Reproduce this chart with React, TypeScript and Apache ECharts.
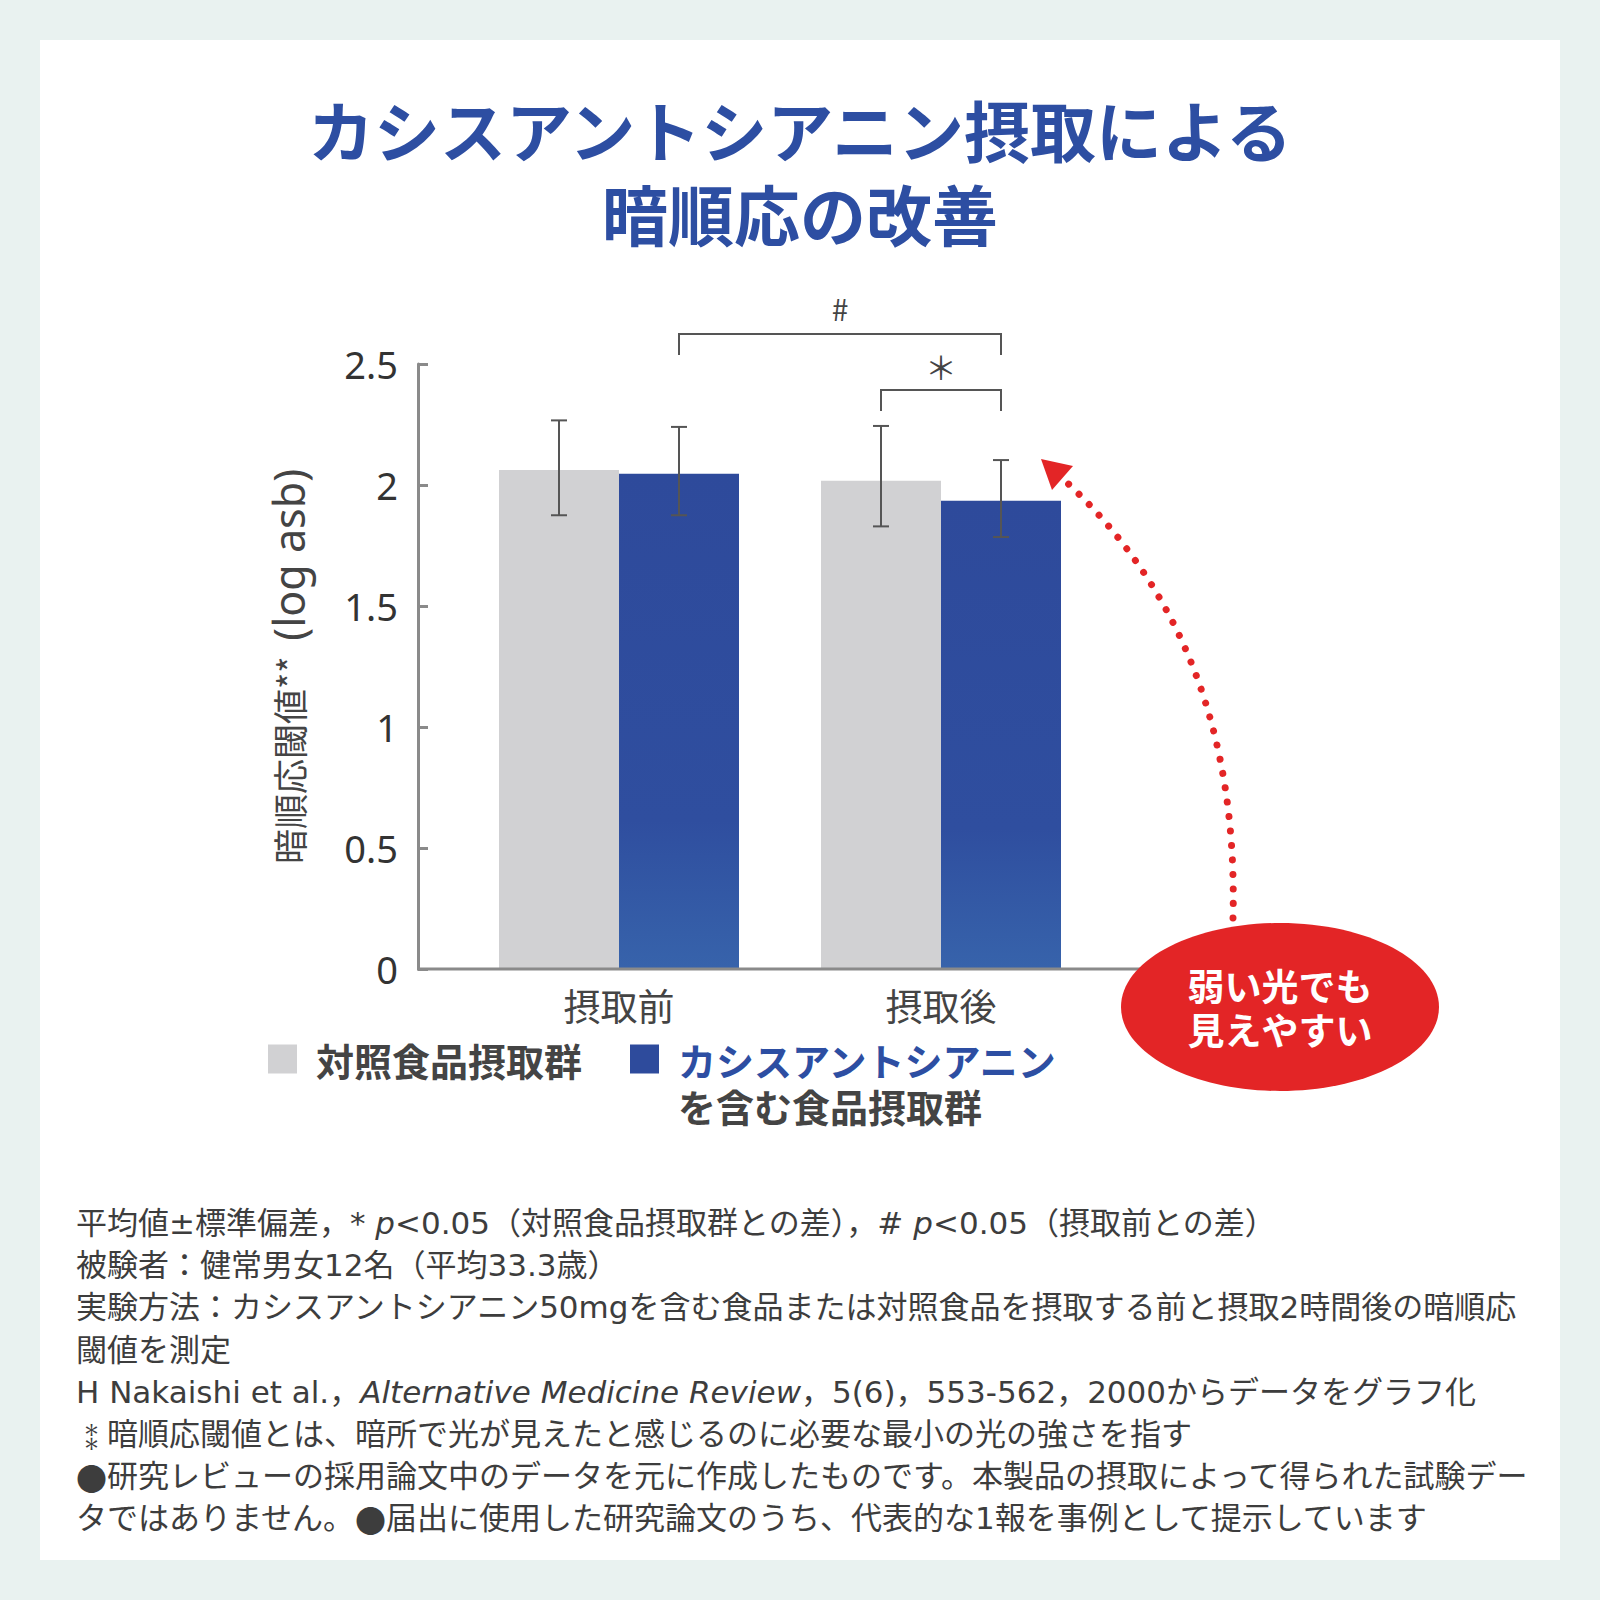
import React, { useEffect, useRef } from 'react';
import * as echarts from 'echarts';

// ---------- data ----------
const categories = ['摂取前', '摂取後'];
const seriesNames = ['対照食品摂取群', 'カシスアントシアニンを含む食品摂取群'];
const controlMeans = [2.062, 2.018];
const cassisMeans = [2.047, 1.935];
const controlLow = [1.875, 1.829];
const controlHigh = [2.267, 2.244];
const cassisLow = [1.875, 1.785];
const cassisHigh = [2.24, 2.103];
const yTicks = [0, 0.5, 1, 1.5, 2, 2.5];

const titleLines = ['カシスアントシアニン摂取による', '暗順応の改善'];
const calloutLines = ['弱い光でも', '見えやすい'];

// significance brackets: from/to = [categoryIndex, seriesIndex]
const brackets = [
  { label: '#', from: [0, 1], to: [1, 1], top: 2.624, leg: 2.537, labelY: 2.73 },
  { label: '＊', from: [1, 0], to: [1, 1], top: 2.393, leg: 2.306, labelY: 2.49 },
];

const footnotes = [
  '平均値±標準偏差，* {i|p}<0.05（対照食品摂取群との差），# {i|p}<0.05（摂取前との差）',
  '被験者：健常男女12名（平均33.3歳）',
  '実験方法：カシスアントシアニン50mgを含む食品または対照食品を摂取する前と摂取2時間後の暗順応',
  '閾値を測定',
  'H Nakaishi et al.，{i|Alternative Medicine Review}，5(6)，553-562，2000からデータをグラフ化',
  '{k|⁑}暗順応閾値とは、暗所で光が見えたと感じるのに必要な最小の光の強さを指す',
  '{c|●}研究レビューの採用論文中のデータを元に作成したものです。本製品の摂取によって得られた試験デー',
  'タではありません。{c|●}届出に使用した研究論文のうち、代表的な1報を事例として提示しています',
];

// ---------- style constants ----------
const FONT_JP = '"Noto Sans CJK JP", "Noto Sans", sans-serif';
const FONT_LAT = '"Noto Sans", "DejaVu Sans", sans-serif';
const FONT_FOOT = '"DejaVu Sans", "Noto Sans CJK JP", sans-serif';
const BAR_W = 120;
const BLUE = '#2e4b9c';
const TITLE_BLUE = '#2d4ea2';
const GREY = '#d1d1d3';
const RED = '#e32526';
const INK = '#444444';
const FOOT_INK = '#3d3d3d';

const errorData: number[][] = [];
for (let i = 0; i < categories.length; i++) {
  errorData.push([i, controlLow[i], controlHigh[i], 0]);
  errorData.push([i, cassisLow[i], cassisHigh[i], 1]);
}

function buildOption() {
  const blueGrad = new echarts.graphic.LinearGradient(0, 0, 0, 1, [
    { offset: 0, color: '#2e4a9b' },
    { offset: 0.7, color: '#2f4e9f' },
    { offset: 1, color: '#3763ab' },
  ]);

  const footY0 = 1223;
  const footStep = 42.2;
  const footSize = 31;

  return {
    animation: false,
    backgroundColor: '#e9f2f0',
    title: titleLines.map((t, i) => ({
      text: t,
      left: 'center',
      top: 86 + i * 84,
      padding: 0,
      textStyle: {
        fontSize: 66,
        fontWeight: 'bold',
        color: TITLE_BLUE,
        lineHeight: 84,
        fontFamily: FONT_JP,
      },
    })),
    grid: { left: 458, top: 364, width: 644, height: 605, containLabel: false },
    legend: {
      left: 268,
      top: 1040,
      padding: 0,
      itemWidth: 29,
      itemHeight: 29,
      itemGap: 48,
      icon: 'rect',
      selectedMode: false,
      data: [
        { name: seriesNames[0], itemStyle: { color: GREY } },
        { name: seriesNames[1], itemStyle: { color: BLUE }, textStyle: { padding: [46, 0, 0, 14] } },
      ],
      formatter: (name: string) =>
        name === seriesNames[1] ? '{a|カシスアントシアニン}\n{b|を含む食品摂取群}' : name,
      textStyle: {
        fontSize: 38,
        fontWeight: 'bold',
        color: INK,
        fontFamily: FONT_JP,
        padding: [0, 0, 0, 14],
        rich: {
          a: { fontSize: 38, fontWeight: 'bold', color: TITLE_BLUE, fontFamily: FONT_JP, lineHeight: 46 },
          b: { fontSize: 38, fontWeight: 'bold', color: INK, fontFamily: FONT_JP, lineHeight: 46 },
        },
      },
    },
    xAxis: {
      type: 'category',
      data: categories,
      axisLine: { show: false },
      axisTick: { show: false },
      axisLabel: { fontSize: 37, color: INK, margin: 17, fontFamily: FONT_JP },
    },
    yAxis: {
      type: 'value',
      min: yTicks[0],
      max: yTicks[yTicks.length - 1],
      interval: yTicks[1] - yTicks[0],
      offset: 40,
      axisLine: { show: true, lineStyle: { color: '#8a8a8a', width: 3 } },
      axisTick: { show: true, inside: true, length: 10, lineStyle: { color: '#8a8a8a', width: 3 } },
      splitLine: { show: false },
      axisLabel: { fontSize: 38, color: '#333', margin: 20, fontFamily: FONT_LAT },
      name: '{j|暗順応閾値}{s|**}  {l|(log asb)}',
      nameLocation: 'middle',
      nameGap: 108,
      nameRotate: 90,
      nameTextStyle: {
        fontSize: 35,
        color: INK,
        fontFamily: FONT_JP,
        rich: {
          j: { fontSize: 35, color: INK, fontFamily: FONT_JP, lineHeight: 44, verticalAlign: 'middle' },
          s: { fontSize: 35, color: INK, fontFamily: FONT_JP, lineHeight: 44, verticalAlign: 'middle' },
          l: { fontSize: 43, color: INK, fontFamily: FONT_LAT, lineHeight: 44, verticalAlign: 'middle' },
        },
      },
    },
    series: [
      {
        type: 'bar',
        name: seriesNames[0],
        data: controlMeans,
        barWidth: BAR_W,
        barGap: '0%',
        itemStyle: { color: GREY },
      },
      {
        type: 'bar',
        name: seriesNames[1],
        data: cassisMeans,
        barWidth: BAR_W,
        barGap: '0%',
        itemStyle: { color: blueGrad },
      },
      {
        type: 'custom',
        name: 'error',
        data: errorData,
        encode: { x: 0, y: [1, 2] },
        z: 10,
        clip: false,
        renderItem: (params: any, api: any) => {
          const cat = api.value(0);
          const low = api.value(1);
          const high = api.value(2);
          const s = api.value(3);
          const off = (s - 0.5) * BAR_W;
          const pL = api.coord([cat, low]);
          const pH = api.coord([cat, high]);
          const x = pL[0] + off;
          const cap = 8;
          const st = { stroke: '#555', lineWidth: 2 };
          return {
            type: 'group',
            children: [
              { type: 'line', shape: { x1: x, y1: pL[1], x2: x, y2: pH[1] }, style: st },
              { type: 'line', shape: { x1: x - cap, y1: pH[1], x2: x + cap, y2: pH[1] }, style: st },
              { type: 'line', shape: { x1: x - cap, y1: pL[1], x2: x + cap, y2: pL[1] }, style: st },
            ],
          };
        },
      },
      {
        type: 'custom',
        name: 'sig',
        data: brackets.map((b) => [b.from[0], b.top]),
        z: 10,
        clip: false,
        renderItem: (params: any, api: any) => {
          const b = brackets[params.dataIndex];
          const x1 = api.coord([b.from[0], b.top])[0] + (b.from[1] - 0.5) * BAR_W;
          const x2 = api.coord([b.to[0], b.top])[0] + (b.to[1] - 0.5) * BAR_W;
          const yT = api.coord([b.from[0], b.top])[1];
          const yL = api.coord([b.from[0], b.leg])[1];
          const yLab = api.coord([b.from[0], b.labelY])[1];
          return {
            type: 'group',
            children: [
              {
                type: 'polyline',
                shape: { points: [[x1, yL], [x1, yT], [x2, yT], [x2, yL]] },
                style: { stroke: '#555', lineWidth: 2, fill: 'none' },
              },
              {
                type: 'text',
                style: {
                  text: b.label,
                  x: (x1 + x2) / 2,
                  y: yLab,
                  align: 'center',
                  verticalAlign: 'middle',
                  fontSize: b.label === '#' ? 30 : 32,
                  fontFamily: FONT_JP,
                  fill: '#444',
                },
              },
            ],
          };
        },
      },
    ],
    graphic: [
      {
        type: 'rect',
        z: -10,
        shape: { x: 40, y: 40, width: 1520, height: 1520 },
        style: { fill: '#ffffff' },
      },
      {
        type: 'line',
        z: 5,
        shape: { x1: 417, y1: 969, x2: 1150, y2: 969 },
        style: { stroke: '#8a8a8a', lineWidth: 3 },
      },
      {
        type: 'bezierCurve',
        z: 6,
        shape: { x1: 1233, y1: 918, cpx1: 1240, cpy1: 640, x2: 1062, y2: 478 },
        style: { stroke: RED, lineWidth: 7, lineDash: [0.01, 14.5], lineCap: 'round', fill: 'none' },
      },
      {
        type: 'polygon',
        z: 6,
        shape: { points: [[1041, 459], [1073, 466], [1052, 490]] },
        style: { fill: RED },
      },
      {
        type: 'ellipse',
        z: 7,
        shape: { cx: 1280, cy: 1007, rx: 159, ry: 84 },
        style: { fill: RED },
      },
      ...calloutLines.map((t, i) => ({
        type: 'text',
        z: 8,
        style: {
          text: t,
          x: 1280,
          y: 985 + i * 44,
          align: 'center',
          verticalAlign: 'middle',
          fontSize: 37,
          fontWeight: 'bold',
          fontFamily: FONT_JP,
          fill: '#ffffff',
        },
      })),
      ...footnotes.map((t, i) => ({
        type: 'text',
        z: 8,
        style: {
          text: t,
          x: 76,
          y: footY0 + i * footStep,
          align: 'left',
          verticalAlign: 'middle',
          fontSize: footSize,
          fontFamily: FONT_FOOT,
          fill: FOOT_INK,
          rich: {
            i: { fontSize: footSize, fontStyle: 'italic', fontFamily: '"DejaVu Sans", sans-serif', fill: FOOT_INK },
            k: { fontSize: footSize, fontFamily: FONT_JP, fill: FOOT_INK },
            c: { fontSize: footSize, fontFamily: FONT_JP, fill: FOOT_INK },
          },
        },
      })),
    ],
  };
}

export default function App() {
  const ref = useRef<HTMLDivElement>(null);
  useEffect(() => {
    const chart = echarts.init(ref.current!, undefined, { renderer: 'svg', width: 1600, height: 1600 });
    chart.setOption(buildOption() as any);
    return () => chart.dispose();
  }, []);
  return (
    <div
      ref={ref}
      style={{ position: 'absolute', left: 0, top: 0, width: 1600, height: 1600 }}
    />
  );
}
